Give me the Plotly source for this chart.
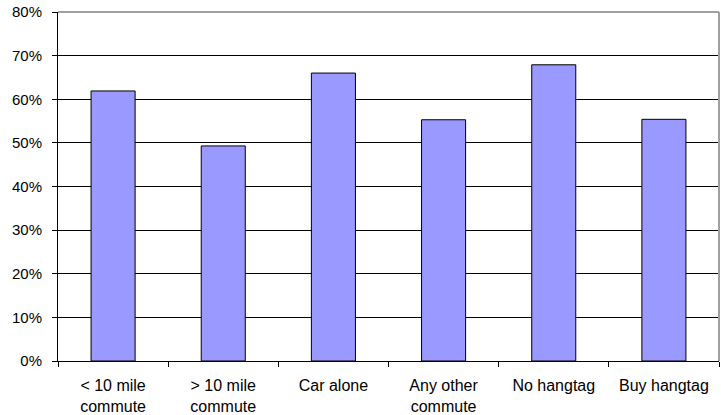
import plotly.graph_objects as go

categories = ["< 10 mile<br>commute", "> 10 mile<br>commute", "Car alone",
              "Any other<br>commute", "No hangtag", "Buy hangtag"]
values = [0.619, 0.493, 0.66, 0.553, 0.679, 0.554]
y_ticks = [0, 0.1, 0.2, 0.3, 0.4, 0.5, 0.6, 0.7, 0.8]
y_tick_labels = ["0%", "10%", "20%", "30%", "40%", "50%", "60%", "70%", "80%"]

fig = go.Figure(go.Bar(
    x=categories, y=values,
    marker=dict(color="#9999FF", line=dict(color="#000000", width=1)),
    width=0.4,
))

xfont = dict(family="Liberation Sans, Arial, sans-serif", size=16, color="#000000")
yfont = dict(family="Liberation Sans, Arial, sans-serif", size=15, color="#000000")

fig.update_layout(
    width=721, height=415,
    margin=dict(l=58, r=2, t=12, b=54, autoexpand=False),
    paper_bgcolor="white", plot_bgcolor="white",
    showlegend=False,
    font=xfont,
    xaxis=dict(
        type="category", showline=True, linecolor="#000000", linewidth=1,
        ticks="outside", ticklen=5, tickcolor="#000000", tickson="boundaries",
        showgrid=False, tickfont=xfont, automargin=False, ticklabelstandoff=10,
    ),
    yaxis=dict(
        range=[0, 0.8], tickvals=y_ticks, ticktext=y_tick_labels,
        showline=True, linecolor="#000000", linewidth=1,
        ticks="outside", ticklen=5, tickcolor="#000000",
        showgrid=True, gridcolor="#000000", gridwidth=1, zeroline=False,
        tickfont=yfont, ticklabelstandoff=7, automargin=False,
    ),
    shapes=[
        dict(type="line", xref="paper", yref="paper", x0=0, x1=1, y0=1, y1=1,
             line=dict(color="#a0a0a0", width=2), layer="above"),
        dict(type="line", xref="paper", yref="paper", x0=1, x1=1, y0=0, y1=1,
             line=dict(color="#a0a0a0", width=2), layer="above"),
    ],
)

fig.write_html(
    "out.html",
    config={"displayModeBar": False},
    post_script="document.body.style.margin='0px';document.body.style.overflow='hidden';",
)
